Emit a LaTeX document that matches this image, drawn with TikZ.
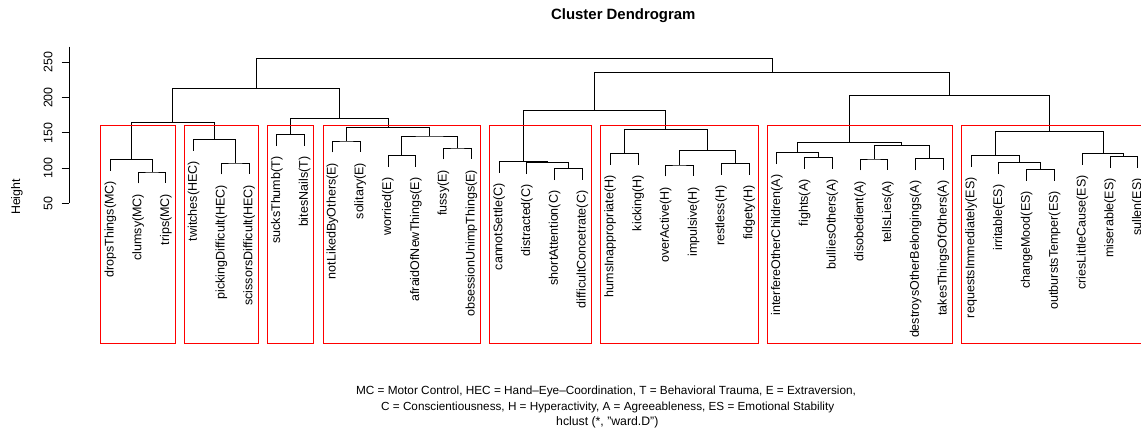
\documentclass[tikz,border=0pt]{standalone}
\usepackage{fontspec}
\setmainfont{Liberation Sans}
\begin{document}
\begin{tikzpicture}[x=0.75pt, y=-0.75pt,
        leaf/.style={rotate=90, anchor=east, inner sep=0pt, outer xsep=7.9pt, font=\fontsize{9.4}{11}\selectfont},
        branch/.style={draw=black, line width=0.75pt},
        cluster/.style={draw=red, line width=0.75pt},
        axislabel/.style={rotate=90, inner sep=0pt, font=\fontsize{9.3}{11}\selectfont},
        note/.style={anchor=base, inner sep=0pt, font=\fontsize{8.85}{11}\selectfont}
    ]
        \useasboundingbox (0,0) rectangle (1141,429);

        % title and axis
        \node[anchor=base, inner sep=0pt, font=\fontsize{11.2}{13}\selectfont\bfseries] (title) at (623.3,19.3) {Cluster Dendrogram};
        \node[axislabel] (ylab) at (17,197) {Height};
        \draw[branch] (69.3,46.7) -- (69.3,203.3);
        \foreach \v/\y in {50/203.3, 100/168.05, 150/132.8, 200/97.55, 250/62.3} {
            \draw[branch] (61.7,\y) -- (69.3,\y);
            \node[axislabel] (tick\v) at (48,\y) {\v};
        }

        % leaves
        \node[leaf] (dropsThings) at (110.3,170.6) {dropsThings(MC)};
        \node[leaf] (clumsy) at (138.1,183.3) {clumsy(MC)};
        \node[leaf] (trips) at (165.8,183.3) {trips(MC)};
        \node[leaf] (twitches) at (193.6,150.6) {twitches(HEC)};
        \node[leaf] (pickingDifficult) at (221.4,174.3) {pickingDifficult(HEC)};
        \node[leaf] (scissorsDifficult) at (249.2,174.3) {scissorsDifficult(HEC)};
        \node[leaf] (sucksThumb) at (276.9,146.1) {sucksThumb(T)};
        \node[leaf] (bitesNails) at (304.7,146.1) {bitesNails(T)};
        \node[leaf] (notLikedByOthers) at (332.5,152.3) {notLikedByOthers(E)};
        \node[leaf] (solitary) at (360.2,152.3) {solitary(E)};
        \node[leaf] (worried) at (388.0,167.1) {worried(E)};
        \node[leaf] (afraidOfNewThings) at (415.8,167.1) {afraidOfNewThings(E)};
        \node[leaf] (fussy) at (443.5,159.3) {fussy(E)};
        \node[leaf] (obsessionUnimpThings) at (471.3,159.3) {obsessionUnimpThings(E)};
        \node[leaf] (cannotSettle) at (499.1,172.6) {cannotSettle(C)};
        \node[leaf] (distracted) at (526.9,174.1) {distracted(C)};
        \node[leaf] (shortAttention) at (554.6,180.1) {shortAttention(C)};
        \node[leaf] (difficultConcetrate) at (582.4,180.1) {difficultConcetrate(C)};
        \node[leaf] (humsInappropriate) at (610.2,164.8) {humsInappropriate(H)};
        \node[leaf] (kicking) at (638.0,164.8) {kicking(H)};
        \node[leaf] (overActive) at (665.7,176.3) {overActive(H)};
        \node[leaf] (impulsive) at (693.5,176.3) {impulsive(H)};
        \node[leaf] (restless) at (721.2,174.8) {restless(H)};
        \node[leaf] (fidgety) at (749.0,174.8) {fidgety(H)};
        \node[leaf] (interfereOtherChildren) at (776.8,164.1) {interfereOtherChildren(A)};
        \node[leaf] (fights) at (804.6,168.8) {fights(A)};
        \node[leaf] (bulliesOthers) at (832.3,168.8) {bulliesOthers(A)};
        \node[leaf] (disobedient) at (860.1,170.3) {disobedient(A)};
        \node[leaf] (tellsLies) at (887.9,170.3) {tellsLies(A)};
        \node[leaf] (destroysOtherBelongings) at (915.6,170.0) {destroysOtherBelongings(A)};
        \node[leaf] (takesThingsOfOthers) at (943.4,170.0) {takesThingsOfOthers(A)};
        \node[leaf] (requestsImmediately) at (971.2,166.8) {requestsImmediately(ES)};
        \node[leaf] (irritable) at (998.9,174.0) {irritable(ES)};
        \node[leaf] (changeMood) at (1026.7,180.5) {changeMood(ES)};
        \node[leaf] (outburstsTemper) at (1054.5,180.5) {outburstsTemper(ES)};
        \node[leaf] (criesLittleCause) at (1082.3,164.8) {criesLittleCause(ES)};
        \node[leaf] (miserable) at (1110.0,167.6) {miserable(ES)};
        \node[leaf] (sullen) at (1137.8,167.6) {sullen(ES)};

        % merge points
        \coordinate (clumsyTrips) at (152.0,172.0);
        \coordinate (motorTop) at (131.1,159.3);
        \coordinate (pickScissors) at (235.3,163.0);
        \coordinate (handEyeTop) at (214.4,139.3);
        \coordinate (motorHandEye) at (172.8,122.3);
        \coordinate (traumaTop) at (290.8,134.8);
        \coordinate (likedSolitary) at (346.4,141.0);
        \coordinate (worriedAfraid) at (401.9,155.8);
        \coordinate (fussyObsession) at (457.4,148.0);
        \coordinate (worriedFussy) at (429.7,136.0);
        \coordinate (extraTop) at (388.0,127.3);
        \coordinate (traumaExtra) at (339.4,118.3);
        \coordinate (leftTop) at (256.1,88.3);
        \coordinate (shortDifficult) at (568.5,168.8);
        \coordinate (distractedShort) at (547.7,162.8);
        \coordinate (conscTop) at (523.4,161.3);
        \coordinate (humsKicking) at (624.1,153.5);
        \coordinate (overImpulsive) at (679.6,165.0);
        \coordinate (restlessFidgety) at (735.1,163.5);
        \coordinate (overRestless) at (707.4,150.3);
        \coordinate (hyperTop) at (665.7,129.3);
        \coordinate (conscHyper) at (594.6,110.7);
        \coordinate (fightsBullies) at (818.5,157.5);
        \coordinate (interfereFights) at (797.6,152.8);
        \coordinate (disobedientLies) at (874.0,159.0);
        \coordinate (destroysTakes) at (929.5,158.7);
        \coordinate (disobedientDestroys) at (901.8,145.9);
        \coordinate (agreeTop) at (849.7,142.3);
        \coordinate (moodTemper) at (1040.6,169.2);
        \coordinate (irritableMood) at (1019.8,162.7);
        \coordinate (requestsIrritable) at (995.5,155.5);
        \coordinate (miserableSullen) at (1123.9,156.3);
        \coordinate (criesMiserable) at (1103.1,153.5);
        \coordinate (emoTop) at (1049.3,131.7);
        \coordinate (agreeEmo) at (949.5,95.3);
        \coordinate (rightTop) at (772.0,72.3);
        \coordinate (root) at (514.0,58.3);

        % branches
        \draw[branch] (clumsy.east) |- (clumsyTrips) -| (trips.east);
        \draw[branch] (dropsThings.east) |- (motorTop) -| (clumsyTrips);
        \draw[branch] (pickingDifficult.east) |- (pickScissors) -| (scissorsDifficult.east);
        \draw[branch] (twitches.east) |- (handEyeTop) -| (pickScissors);
        \draw[branch] (motorTop) |- (motorHandEye) -| (handEyeTop);
        \draw[branch] (sucksThumb.east) |- (traumaTop) -| (bitesNails.east);
        \draw[branch] (notLikedByOthers.east) |- (likedSolitary) -| (solitary.east);
        \draw[branch] (worried.east) |- (worriedAfraid) -| (afraidOfNewThings.east);
        \draw[branch] (fussy.east) |- (fussyObsession) -| (obsessionUnimpThings.east);
        \draw[branch] (worriedAfraid) |- (worriedFussy) -| (fussyObsession);
        \draw[branch] (likedSolitary) |- (extraTop) -| (worriedFussy);
        \draw[branch] (traumaTop) |- (traumaExtra) -| (extraTop);
        \draw[branch] (motorHandEye) |- (leftTop) -| (traumaExtra);
        \draw[branch] (shortAttention.east) |- (shortDifficult) -| (difficultConcetrate.east);
        \draw[branch] (distracted.east) |- (distractedShort) -| (shortDifficult);
        \draw[branch] (cannotSettle.east) |- (conscTop) -| (distractedShort);
        \draw[branch] (humsInappropriate.east) |- (humsKicking) -| (kicking.east);
        \draw[branch] (overActive.east) |- (overImpulsive) -| (impulsive.east);
        \draw[branch] (restless.east) |- (restlessFidgety) -| (fidgety.east);
        \draw[branch] (overImpulsive) |- (overRestless) -| (restlessFidgety);
        \draw[branch] (humsKicking) |- (hyperTop) -| (overRestless);
        \draw[branch] (conscTop) |- (conscHyper) -| (hyperTop);
        \draw[branch] (fights.east) |- (fightsBullies) -| (bulliesOthers.east);
        \draw[branch] (interfereOtherChildren.east) |- (interfereFights) -| (fightsBullies);
        \draw[branch] (disobedient.east) |- (disobedientLies) -| (tellsLies.east);
        \draw[branch] (destroysOtherBelongings.east) |- (destroysTakes) -| (takesThingsOfOthers.east);
        \draw[branch] (disobedientLies) |- (disobedientDestroys) -| (destroysTakes);
        \draw[branch] (interfereFights) |- (agreeTop) -| (disobedientDestroys);
        \draw[branch] (changeMood.east) |- (moodTemper) -| (outburstsTemper.east);
        \draw[branch] (irritable.east) |- (irritableMood) -| (moodTemper);
        \draw[branch] (requestsImmediately.east) |- (requestsIrritable) -| (irritableMood);
        \draw[branch] (miserable.east) |- (miserableSullen) -| (sullen.east);
        \draw[branch] (criesLittleCause.east) |- (criesMiserable) -| (miserableSullen);
        \draw[branch] (requestsIrritable) |- (emoTop) -| (criesMiserable);
        \draw[branch] (agreeTop) |- (agreeEmo) -| (emoTop);
        \draw[branch] (conscHyper) |- (rightTop) -| (agreeEmo);
        \draw[branch] (leftTop) |- (root) -| (rightTop);

        % cluster boxes
        \draw[cluster] (100.9,125) rectangle (175.3,343);
        \draw[cluster] (184.4,125) rectangle (258.4,343);
        \draw[cluster] (267.5,125) rectangle (313.9,343);
        \draw[cluster] (323.1,125) rectangle (480.5,343);
        \draw[cluster] (489.7,125) rectangle (591.6,343);
        \draw[cluster] (600.8,125) rectangle (758.2,343);
        \draw[cluster] (767.4,125) rectangle (952.6,343);
        \draw[cluster] (961.8,125) rectangle (1147,343);

        % legend under the plot
        \node[note] (legendA) at (606,394.5) {MC = Motor Control, HEC = Hand–Eye–Coordination, T = Behavioral Trauma, E = Extraversion,};
        \node[note, font=\fontsize{8.8}{11}\selectfont] (legendB) at (607.7,410.2) {C = Conscientiousness, H = Hyperactivity, A = Agreeableness, ES = Emotional Stability};
        \node[note, font=\fontsize{9.2}{11}\selectfont] (method) at (607.3,425.8) {hclust (*, "ward.D")};
    \end{tikzpicture}
\end{document}
